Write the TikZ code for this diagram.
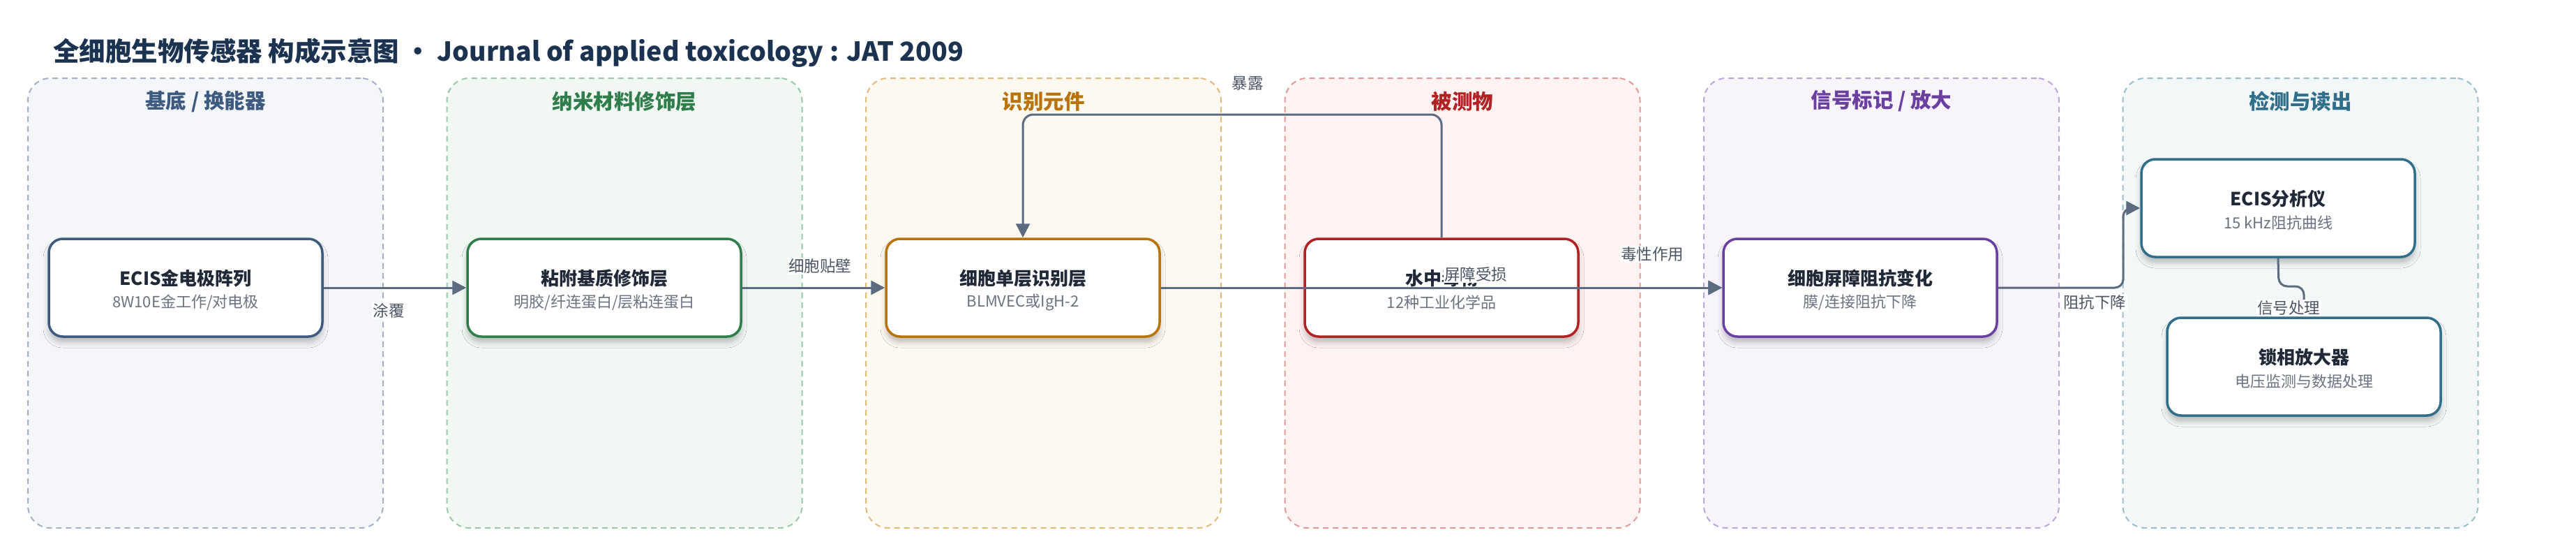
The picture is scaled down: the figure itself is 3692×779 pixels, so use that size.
\documentclass[tikz,border=0pt]{standalone}
\usepackage{fontspec}
\setmainfont{Noto Sans CJK SC}
\usetikzlibrary{arrows.meta,shadows.blur,calc}
\definecolor{titC}{HTML}{1B3350}
\definecolor{edgeC}{HTML}{5B6B80}
\definecolor{ntC}{HTML}{1F2937}
\definecolor{nsC}{HTML}{6B7280}
\definecolor{lbC}{HTML}{4B5563}
\definecolor{f1}{HTML}{F4F6FA}\definecolor{b1}{HTML}{A3B1C6}\definecolor{t1}{HTML}{3D5A80}
\definecolor{f2}{HTML}{F1F8F3}\definecolor{b2}{HTML}{9CC8A9}\definecolor{t2}{HTML}{2E7D4A}
\definecolor{f3}{HTML}{FEF9F1}\definecolor{b3}{HTML}{E2BB7C}\definecolor{t3}{HTML}{B8730A}
\definecolor{f4}{HTML}{FEF3F2}\definecolor{b4}{HTML}{E29A98}\definecolor{t4}{HTML}{B22222}
\definecolor{f5}{HTML}{F7F4FC}\definecolor{b5}{HTML}{BCA6DC}\definecolor{t5}{HTML}{6B3FA0}
\definecolor{f6}{HTML}{F3F7F8}\definecolor{b6}{HTML}{98BFCB}\definecolor{t6}{HTML}{2F6F8A}
\tikzset{
  lanebox/.style 2 args={draw=#1, fill=#2, line width=2pt, dash pattern=on 8pt off 6pt,
    rounded corners=32pt, minimum width=509pt, minimum height=644pt, inner sep=0pt},
  lanetitle/.style={font=\fontsize{29.5}{34}\selectfont\bfseries, text=#1},
  stepbox/.style={draw=#1, fill=white, line width=3.5pt, rounded corners=20pt,
    minimum width=392pt, minimum height=140pt, inner sep=0pt,
    blur shadow={shadow xshift=0pt, shadow yshift=-8pt, shadow blur radius=8pt, shadow opacity=25}},
  ntitle/.style={font=\fontsize{26}{30}\selectfont\bfseries, text=ntC},
  nsub/.style={font=\fontsize{22}{26}\selectfont, text=nsC},
  elabel/.style={font=\fontsize{22.5}{26}\selectfont, text=lbC, fill=white, inner sep=1.5pt},
  conn/.style={draw=edgeC, line width=3pt, -{Triangle[length=20pt,width=20pt]}},
}
\begin{document}
\begin{tikzpicture}[x=1pt,y=-1pt]
\useasboundingbox (0,0) rectangle (3692,779);
% title
\node[anchor=west, font=\fontsize{37.5}{44}\selectfont\bfseries, text=titC, inner sep=0pt] (title) at (76,76)
  {全细胞生物传感器 构成示意图 • Journal of applied toxicology : JAT 2009};
% lanes
\node[lanebox={b1}{f1}] (L1) at (294.5,434) {};
\node[lanebox={b2}{f2}] (L2) at (895,434) {};
\node[lanebox={b3}{f3}] (L3) at (1495.5,434) {};
\node[lanebox={b4}{f4}] (L4) at (2096,434) {};
\node[lanebox={b5}{f5}] (L5) at (2696.5,434) {};
\node[lanebox={b6}{f6}] (L6) at (3297,434) {};
\node[lanetitle=t1] (LT1) at (294.5,145) {基底 / 换能器};
\node[lanetitle=t2] (LT2) at (895,145) {纳米材料修饰层};
\node[lanetitle=t3] (LT3) at (1495.5,145) {识别元件};
\node[lanetitle=t4] (LT4) at (2096,145) {被测物};
\node[lanetitle=t5] (LT5) at (2696.5,145) {信号标记 / 放大};
\node[lanetitle=t6] (LT6) at (3297,145) {检测与读出};
% step boxes
\node[stepbox=t1] (n1) at (266,412) {};
\node[stepbox=t2] (n2) at (866,412) {};
\node[stepbox=t3] (n3) at (1466,412) {};
\node[stepbox=t4] (n4) at (2066,412) {};
\node[stepbox=t5] (n5) at (2666,412) {};
\node[stepbox=t6] (n6) at (3265,298) {};
\node[stepbox=t6] (n7) at (3302,525) {};
% box texts
\node[ntitle] (n1t) at ($(n1.center)+(0,-13)$) {ECIS金电极阵列};
\node[nsub]   (n1s) at ($(n1.center)+(0,21)$) {8W10E金工作/对电极};
\node[ntitle] (n2t) at ($(n2.center)+(0,-13)$) {粘附基质修饰层};
\node[nsub]   (n2s) at ($(n2.center)+(0,21)$) {明胶/纤连蛋白/层粘连蛋白};
\node[ntitle] (n3t) at ($(n3.center)+(0,-13)$) {细胞单层识别层};
\node[nsub]   (n3s) at ($(n3.center)+(0,21)$) {BLMVEC或IgH-2};
\node[ntitle] (n4t) at ($(n4.center)+(0,-13)$) {水中毒物};
\node[nsub]   (n4s) at ($(n4.center)+(0,21)$) {12种工业化学品};
\node[ntitle] (n5t) at ($(n5.center)+(0,-13)$) {细胞屏障阻抗变化};
\node[nsub]   (n5s) at ($(n5.center)+(0,21)$) {膜/连接阻抗下降};
\node[ntitle] (n6t) at ($(n6.center)+(0,-13)$) {ECIS分析仪};
\node[nsub]   (n6s) at ($(n6.center)+(0,21)$) {15 kHz阻抗曲线};
\node[ntitle] (n7t) at ($(n7.center)+(0,-13)$) {锁相放大器};
\node[nsub]   (n7s) at ($(n7.center)+(0,21)$) {电压监测与数据处理};
% connectors
\coordinate (lp) at (1766,164);
\coordinate (k1) at (3043,412);
\coordinate (k2) at (3266,410);
\draw[conn] (n1.east) -- (n2.west);
\draw[conn] (n2.east) -- (n3.west);
\draw[conn] (n3.east) -- (n5.west);
\draw[conn] (n4.east) -- (n5.west);
\draw[conn, rounded corners=15pt] (n4.north) |- (lp) -| (n3.north);
\draw[conn, rounded corners=12pt] (n5.east) -- (k1) |- (n6.west);
\draw[conn, rounded corners=12pt] (n6.south) -- (k2) -| (n7.north);
% connector labels
\node[elabel] (e1) at (557,445) {涂覆};
\node[elabel] (e2) at (1175,381) {细胞贴壁};
\node[elabel] (e3) at (1788,119) {暴露};
\node[elabel] (e4) at (2115,393) {屏障受损};
\node[elabel] (e5) at (2368,364) {毒性作用};
\node[elabel] (e6) at (3002,433) {阻抗下降};
\node[elabel] (e7) at (3280,441) {信号处理};
\end{tikzpicture}
\end{document}
